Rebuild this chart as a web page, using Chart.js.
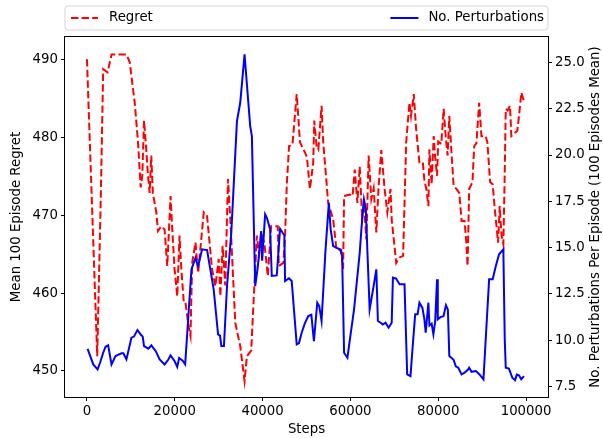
<!DOCTYPE html>
<html>
<head>
<meta charset="utf-8">
<script src="https://cdn.jsdelivr.net/npm/chart.js@4"></script>
<style>
  html, body { margin: 0; padding: 0; background: #fff; }
  #wrap { width: 603px; height: 438px; }
</style>
</head>
<body>
<div id="wrap"><canvas id="chart"></canvas></div>
<script>
// Regret (left axis), dashed red
const regretSteps = [0, 2340, 3170, 3700, 4690, 5600, 9000, 9750, 10880, 11630, 12240, 12600, 13000, 13500, 13900, 14280, 14650, 15000, 15800, 16170, 16900, 17680, 18290, 19040, 19400, 19950, 20560, 21080, 21500, 22060, 22440, 23120, 23580, 23960, 24710, 25320, 26600, 27360, 28490, 29250, 30000, 30380, 30900, 31500, 32120, 32650, 33780, 34910, 35890, 36430, 37400, 38160, 38700, 39200, 39830, 40400, 41190, 41940, 43460, 43700, 44730, 45120, 45500, 46020, 46800, 47770, 48520, 49650, 50100, 50780, 51530, 51760, 52300, 52700, 53430, 53810, 54940, 56070, 56830, 57900, 58340, 58560, 59850, 60500, 60990, 61590, 62120, 62650, 63100, 63630, 64150, 64760, 65300, 65900, 66400, 67030, 67790, 68400, 69140, 69400, 70440, 71190, 72000, 72700, 73450, 73800, 74430, 74970, 75720, 76500, 76850, 77300, 77760, 77990, 78500, 78970, 79300, 79730, 80000, 80700, 81230, 81700, 82140, 82520, 82900, 83500, 84000, 84790, 85320, 86000, 86400, 86680, 87050, 87800, 88190, 88700, 89320, 89840, 90800, 91200, 91810, 92400, 92880, 93330, 93630, 94000, 94400, 94830, 95150, 95380, 95800, 96350, 96650, 97400, 98010, 98400, 98920, 99530];
const regretValues = [490.1, 451.9, 472.9, 488.8, 488.4, 490.7, 490.7, 489.7, 484.5, 479.4, 473.6, 475.1, 482.2, 478.5, 475.1, 472.9, 477.7, 472.9, 470.4, 468.0, 468.6, 468.2, 463.5, 472.5, 468.5, 463.1, 459.6, 467.4, 463.0, 458.8, 458.8, 455.8, 454.5, 463.9, 466.5, 462.6, 470.4, 469.9, 463.1, 460.9, 464.4, 459.6, 466.1, 461.0, 474.7, 469.5, 456.2, 453.2, 448.7, 451.9, 452.6, 461.4, 467.4, 465.0, 467.4, 466.5, 462.2, 468.6, 468.6, 463.5, 463.9, 467.4, 473.8, 478.9, 479.1, 485.6, 479.4, 478.1, 477.5, 473.4, 476.8, 482.2, 478.9, 478.5, 484.1, 479.4, 471.6, 469.5, 465.6, 465.6, 463.1, 472.5, 472.7, 472.5, 475.9, 471.6, 476.3, 469.9, 471.5, 466.9, 477.7, 472.1, 473.5, 467.8, 473.5, 478.4, 473.4, 470.4, 473.4, 469.5, 463.9, 464.6, 464.8, 479.4, 484.5, 482.8, 485.6, 481.1, 476.8, 476.8, 474.5, 473.4, 471.2, 478.5, 474.0, 480.2, 477.5, 475.1, 479.5, 479.2, 483.7, 480.2, 477.7, 482.8, 479.2, 473.8, 473.5, 472.9, 469.3, 469.3, 466.5, 463.5, 473.4, 474.3, 478.9, 479.3, 484.5, 480.2, 480.2, 479.4, 474.3, 474.0, 470.8, 468.3, 466.5, 471.2, 467.5, 466.3, 475.5, 483.7, 483.5, 484.1, 480.2, 480.6, 480.9, 482.8, 485.8, 484.7];

// No. perturbations (right axis), solid blue
const pertSteps = [150, 1430, 2420, 3000, 3700, 4230, 4830, 5590, 6500, 7860, 8300, 8990, 10130, 10700, 11490, 12300, 12700, 13000, 14000, 14670, 15700, 16550, 17680, 18500, 19040, 19900, 20560, 21000, 21800, 22370, 23800, 24710, 25320, 26220, 27360, 28860, 29860, 30300, 30600, 31200, 31900, 32870, 34160, 34910, 35890, 36300, 37180, 37560, 38320, 38930, 39670, 39900, 40580, 41000, 41710, 42090, 43230, 43980, 44960, 45120, 46000, 46630, 47770, 48300, 48900, 49600, 50400, 51100, 51690, 52450, 52900, 53430, 54340, 55090, 55500, 56070, 57000, 57700, 58110, 58560, 59320, 59800, 60830, 62120, 62500, 63090, 63500, 64380, 65200, 65900, 66260, 66900, 67400, 68000, 68700, 69400, 69680, 70400, 71190, 72320, 72930, 73680, 74000, 74750, 75300, 75720, 76400, 76850, 77150, 77760, 78000, 78500, 78900, 79300, 79730, 79900, 80500, 81200, 81770, 82200, 82520, 83500, 84000, 84560, 85320, 86000, 86900, 87050, 87600, 88570, 89400, 90300, 91590, 92400, 93100, 93860, 94830, 95150, 95380, 96100, 96880, 97500, 97900, 98390, 98900, 99530];
const pertValues = [9.54, 8.70, 8.43, 8.8, 9.33, 9.65, 9.73, 8.70, 9.15, 9.30, 9.3, 8.97, 10.14, 10.2, 10.55, 10.3, 10.2, 9.69, 9.55, 9.73, 9.4, 8.97, 8.70, 8.95, 9.19, 8.9, 8.57, 9.05, 8.9, 8.70, 13.83, 14.45, 14.0, 14.91, 14.87, 12.75, 10.32, 10.25, 9.69, 9.69, 12.93, 15.8, 21.83, 22.82, 25.43, 24.2, 21.56, 21.02, 12.93, 14.0, 15.9, 14.3, 16.8, 16.6, 15.99, 13.47, 13.5, 16.02, 15.66, 13.2, 13.35, 13.2, 9.78, 9.85, 10.41, 10.9, 11.31, 11.38, 9.96, 12.03, 11.85, 11.04, 14.91, 17.42, 16.0, 15.09, 14.98, 14.9, 14.55, 9.33, 9.06, 9.9, 11.67, 14.72, 15.99, 17.6, 17.1, 11.67, 12.8, 13.83, 11.04, 10.95, 10.85, 10.95, 10.68, 10.95, 13.38, 13.33, 13.02, 13.02, 8.16, 8.07, 9.1, 11.40, 11.40, 12.03, 11.75, 11.13, 10.41, 12.03, 10.8, 10.9, 10.32, 11.0, 13.29, 11.13, 11.25, 11.3, 11.89, 11.65, 9.15, 8.95, 8.6, 8.52, 8.16, 8.25, 8.45, 8.52, 8.3, 8.34, 8.16, 7.89, 13.29, 13.29, 14.0, 14.64, 14.91, 10.05, 8.52, 8.47, 7.98, 7.85, 8.15, 8.11, 7.9, 8.07];

const xTicks = [0, 20000, 40000, 60000, 80000, 100000];
const leftTicks = [450, 460, 470, 480, 490];
const rightTicks = [7.5, 10.0, 12.5, 15.0, 17.5, 20.0, 22.5, 25.0];
const rightTitle = 'No. Perturbations Per Episode (100 Episodes Mean)';

const FONT = "'DejaVu Sans', sans-serif";
Chart.defaults.font.family = FONT;
Chart.defaults.font.size = 13.3;
Chart.defaults.color = '#000';

const toPoints = (xs, ys) => xs.map((x, i) => ({ x: x, y: ys[i] }));

// frame, right title (reads bottom-to-top) and matplotlib style legend box
const framePlugin = {
  id: 'frameAndLegend',
  afterDraw(chart) {
    const { ctx, chartArea } = chart;
    const { left, right, top, bottom } = chartArea;
    ctx.save();
    ctx.strokeStyle = '#000';
    ctx.lineWidth = 1;
    ctx.strokeRect(Math.round(left) - 0.5, Math.round(top) - 0.5, Math.round(right - left) + 1, Math.round(bottom - top) + 1);

    ctx.font = "13.3px " + FONT;
    ctx.fillStyle = '#000';

    // right axis title
    ctx.save();
    ctx.translate(596, (top + bottom) / 2);
    ctx.rotate(-Math.PI / 2);
    ctx.textAlign = 'center';
    ctx.textBaseline = 'middle';
    ctx.fillText(rightTitle, 0, 0);
    ctx.restore();

    // legend box
    const bx = left, by = 6, bw = right - left, bh = 24, r = 3;
    ctx.beginPath();
    ctx.moveTo(bx + r, by);
    ctx.arcTo(bx + bw, by, bx + bw, by + bh, r);
    ctx.arcTo(bx + bw, by + bh, bx, by + bh, r);
    ctx.arcTo(bx, by + bh, bx, by, r);
    ctx.arcTo(bx, by, bx + bw, by, r);
    ctx.closePath();
    ctx.fillStyle = 'rgba(255,255,255,0.8)';
    ctx.fill();
    ctx.strokeStyle = '#d5d5d5';
    ctx.stroke();

    const cy = by + bh / 2;
    ctx.textBaseline = 'middle';
    ctx.fillStyle = '#000';
    const ds = chart.data.datasets;

    // first entry at left
    const d0 = ds[0];
    ctx.strokeStyle = d0.borderColor;
    ctx.lineWidth = 2;
    ctx.setLineDash(d0.borderDash || []);
    ctx.beginPath();
    ctx.moveTo(bx + 6, cy);
    ctx.lineTo(bx + 33, cy);
    ctx.stroke();
    ctx.fillText(d0.label, bx + 44, cy);

    // second entry at right
    const d1 = ds[1];
    const tw = ctx.measureText(d1.label).width;
    const tx = bx + bw - 4 - tw;
    ctx.strokeStyle = d1.borderColor;
    ctx.setLineDash(d1.borderDash || []);
    ctx.beginPath();
    ctx.moveTo(tx - 38, cy);
    ctx.lineTo(tx - 10, cy);
    ctx.stroke();
    ctx.setLineDash([]);
    ctx.fillText(d1.label, tx, cy);
    ctx.restore();
  }
};

const tickGrid = { display: true, drawOnChartArea: false, drawTicks: true, tickLength: 4, color: '#000', tickWidth: 1 };

new Chart(document.getElementById('chart'), {
  type: 'line',
  data: {
    datasets: [
      {
        label: 'Regret',
        data: toPoints(regretSteps, regretValues),
        yAxisID: 'y',
        borderColor: '#ff0000',
        borderWidth: 2,
        borderDash: [7.4, 3.2],
        pointRadius: 0,
        tension: 0,
        fill: false,
        order: 2
      },
      {
        label: 'No. Perturbations',
        data: toPoints(pertSteps, pertValues),
        yAxisID: 'y1',
        borderColor: '#0000ff',
        borderWidth: 2,
        pointRadius: 0,
        tension: 0,
        fill: false,
        order: 1
      }
    ]
  },
  options: {
    responsive: true,
    maintainAspectRatio: false,
    animation: false,
    layout: { padding: { top: 37, left: 0, right: 0, bottom: 0 } },
    plugins: {
      legend: { display: false },
      tooltip: { enabled: false }
    },
    scales: {
      x: {
        type: 'linear',
        min: -5000,
        max: 105000,
        afterFit: (s) => { s.height = 41; },
        afterBuildTicks: (s) => { s.ticks = xTicks.map(v => ({ value: v })); },
        ticks: { padding: 3, maxRotation: 0, autoSkip: false, callback: v => String(v) },
        grid: tickGrid,
        border: { display: false },
        title: { display: true, text: 'Steps', padding: { top: 3, bottom: 0 } }
      },
      y: {
        position: 'left',
        min: 446.65,
        max: 492.95,
        afterFit: (s) => { s.width = 65; },
        afterBuildTicks: (s) => { s.ticks = leftTicks.map(v => ({ value: v })); },
        ticks: { padding: 3, callback: v => String(v) },
        grid: tickGrid,
        border: { display: false },
        title: { display: true, text: 'Mean 100 Episode Regret', padding: { top: 9, bottom: 0 } }
      },
      y1: {
        position: 'right',
        min: 6.94,
        max: 26.37,
        afterFit: (s) => { s.width = 55; },
        afterBuildTicks: (s) => { s.ticks = rightTicks.map(v => ({ value: v })); },
        ticks: { padding: 3, callback: v => v.toFixed(1) },
        grid: tickGrid,
        border: { display: false },
        title: { display: false }
      }
    }
  },
  plugins: [framePlugin]
});
</script>
</body>
</html>
